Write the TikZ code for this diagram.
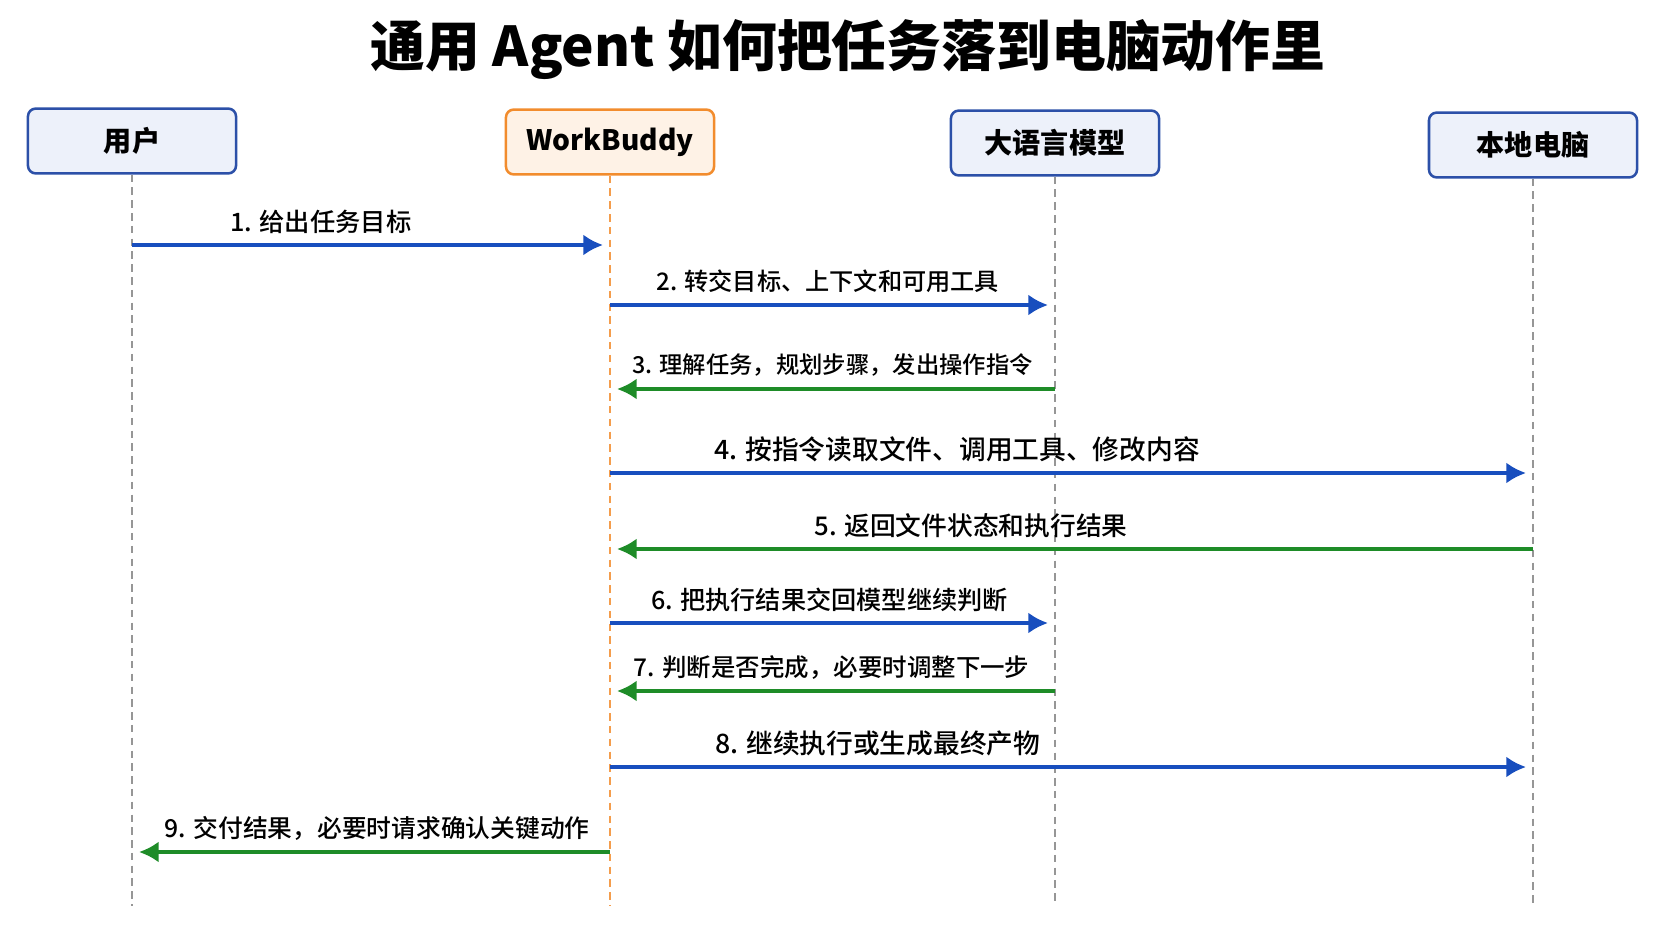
\documentclass[tikz,border=0pt]{standalone}
\usepackage{fontspec}
\setmainfont{Noto Sans CJK SC}
\newfontfamily\medfont{Noto Sans CJK SC Medium}
\usetikzlibrary{arrows.meta}
\definecolor{myblue}{RGB}{24,78,190}
\definecolor{mygreen}{RGB}{30,140,40}
\definecolor{boxblue}{RGB}{44,80,168}
\definecolor{boxfill}{RGB}{237,241,250}
\definecolor{myorange}{RGB}{242,140,45}
\definecolor{orangefill}{RGB}{254,242,230}
\definecolor{dashgray}{RGB}{150,150,150}

\tikzset{
  actor/.style={draw=boxblue, fill=boxfill, line width=1.8pt, rounded corners=5.5pt,
    minimum width=5.2cm, minimum height=1.62cm, font=\bfseries\fontsize{20}{24}\selectfont},
  workbox/.style={draw=myorange, fill=orangefill},
  lifeline/.style={dashgray, line width=1.1pt, dash pattern=on 5.3pt off 3.8pt},
  tomsg/.style={myblue, line width=2.4pt, -{Latex[length=14pt,width=15pt]}, shorten >=5pt},
  backmsg/.style={mygreen, line width=2.4pt, -{Latex[length=14pt,width=15pt]}, shorten >=5pt},
  msgtext/.style={yshift=0.59cm, text=black, font=\medfont\fontsize{#1}{22}\selectfont},
  msgtext/.default=18,
}

\begin{document}
\begin{tikzpicture}[x=0.025cm, y=-0.025cm]
\fill[white] (0,0) rectangle (1672,941);
\useasboundingbox (0,0) rectangle (1672,941);

% title
\node[font=\bfseries\fontsize{39}{46}\selectfont] (title) at (848,50) {通用 Agent 如何把任务落到电脑动作里};

% participants
\node[actor] (user) at (132,141) {用户};
\node[actor, workbox] (work) at (610,142) {WorkBuddy};
\node[actor] (llm) at (1055,143) {大语言模型};
\node[actor] (pc) at (1533,145) {本地电脑};

% lifelines
\coordinate (bottom) at (0,906);
\draw[lifeline] (user.south) -- (user |- bottom);
\draw[lifeline, myorange!85] (work.south) -- (work |- bottom);
\draw[lifeline] (llm.south) -- (llm |- bottom);
\draw[lifeline] (pc.south) -- (pc |- bottom);

% message rows
\coordinate (r1) at (0,245);
\coordinate (r2) at (0,305);
\coordinate (r3) at (0,389);
\coordinate (r4) at (0,473);
\coordinate (r5) at (0,549);
\coordinate (r6) at (0,623);
\coordinate (r7) at (0,691);
\coordinate (r8) at (0,767);
\coordinate (r9) at (0,852);

\draw[tomsg] (user |- r1) -- (work |- r1) node[pos=0.395, msgtext]{1. 给出任务目标};
\draw[tomsg] (work |- r2) -- (llm |- r2) node[pos=0.489, msgtext=17.2]{2. 转交目标、上下文和可用工具};
\draw[backmsg] (llm |- r3) -- (work |- r3) node[pos=0.5, msgtext=16.6]{3. 理解任务，规划步骤，发出操作指令};
\draw[tomsg] (work |- r4) -- (pc |- r4) node[pos=0.376, msgtext=19]{4. 按指令读取文件、调用工具、修改内容};
\draw[backmsg] (pc |- r5) -- (work |- r5) node[pos=0.609, msgtext=18.3]{5. 返回文件状态和执行结果};
\draw[tomsg] (work |- r6) -- (llm |- r6) node[pos=0.493, msgtext=17.9]{6. 把执行结果交回模型继续判断};
\draw[backmsg] (llm |- r7) -- (work |- r7) node[pos=0.502, msgtext=17.4]{7. 判断是否完成，必要时调整下一步};
\draw[tomsg] (work |- r8) -- (pc |- r8) node[pos=0.29, msgtext=19]{8. 继续执行或生成最终产物};
\draw[backmsg] (work |- r9) -- (user |- r9) node[pos=0.487, msgtext=17.6]{9. 交付结果，必要时请求确认关键动作};
\end{tikzpicture}
\end{document}
